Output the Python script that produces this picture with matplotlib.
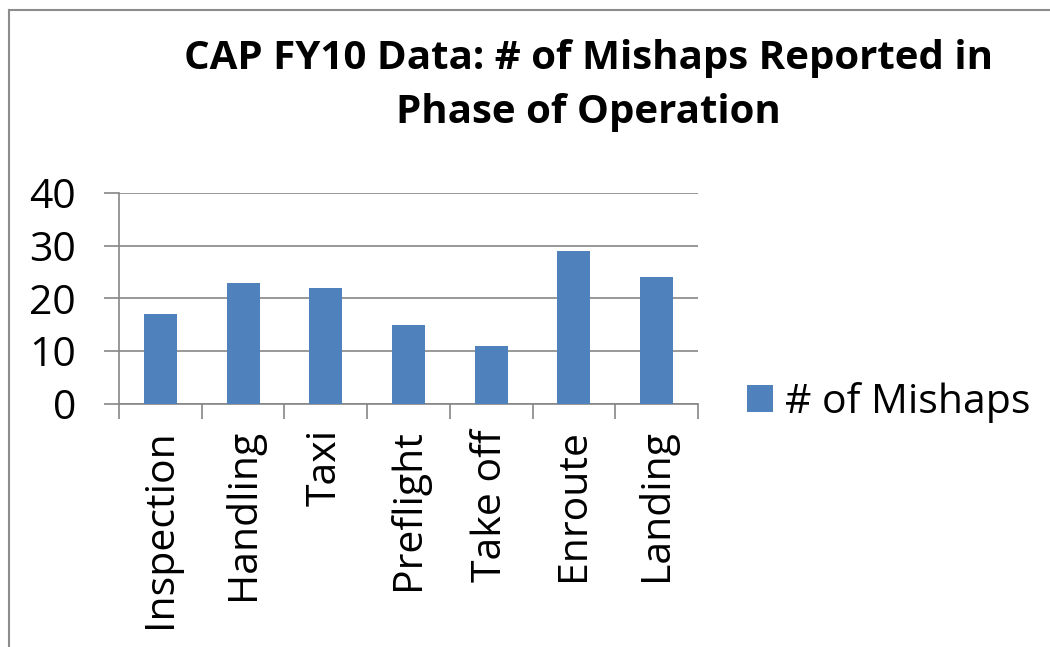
import numpy as np
import matplotlib.pyplot as plt
from matplotlib.lines import Line2D

phases = ['Inspection', 'Handling', 'Taxi', 'Preflight', 'Take off', 'Enroute', 'Landing']
mishaps = [17, 23, 22, 15, 11, 29, 24]
yticks = [0, 10, 20, 30, 40]

plt.rcParams['font.family'] = ['Open Sans', 'DejaVu Sans']

bar_color = '#4F81BD'
line_color = '#868686'

fig = plt.figure(figsize=(10.5, 6.47), dpi=100)
ax = fig.add_axes([0.1133, 0.3756, 0.5515, 0.3261])

x = np.arange(len(phases))
ax.bar(x, mishaps, width=0.4, color=bar_color, label='# of Mishaps', zorder=3)

ax.set_xlim(-0.5, len(phases) - 0.5)
ax.set_ylim(0, 40)
ax.set_yticks(yticks)
ax.set_yticklabels([str(v) for v in yticks], fontsize=29.5)
ax.yaxis.grid(True, color=line_color, linewidth=1.2, zorder=0)

# category boundaries get the tick marks, labels sit in the middle
ax.set_xticks(np.arange(len(phases) + 1) - 0.5)
ax.set_xticklabels([])
ax.set_xticks(x, minor=True)
ax.set_xticklabels(phases, minor=True, rotation=90, fontsize=29.5, va='top', ha='center')
ax.tick_params(axis='x', which='minor', length=0, pad=18)
ax.tick_params(axis='x', which='major', length=11, width=1.2, color=line_color)
ax.tick_params(axis='y', length=11, width=1.2, color=line_color, pad=20)

for side in ['top', 'right']:
    ax.spines[side].set_visible(False)
for side in ['left', 'bottom']:
    ax.spines[side].set_color(line_color)
    ax.spines[side].set_linewidth(1.2)

fig.text(0.56, 0.868, 'CAP FY10 Data: # of Mishaps Reported in\nPhase of Operation',
         ha='center', va='center', fontsize=29, fontweight='bold', linespacing=1.5)

fig.legend(loc='center left', bbox_to_anchor=(0.711, 0.378), frameon=False,
           fontsize=29.5, handlelength=0.65, handleheight=0.65, handletextpad=0.3,
           borderpad=0, borderaxespad=0)

# outer chart frame (left and top edges)
fig.add_artist(Line2D([8.5 / 1050, 8.5 / 1050], [0, 1 - 9.5 / 647],
                      transform=fig.transFigure, color='#8C8C8C', linewidth=1.5))
fig.add_artist(Line2D([8.5 / 1050, 1], [1 - 9.5 / 647, 1 - 9.5 / 647],
                      transform=fig.transFigure, color='#8C8C8C', linewidth=1.5))

fig.savefig('out.png', dpi=100)
